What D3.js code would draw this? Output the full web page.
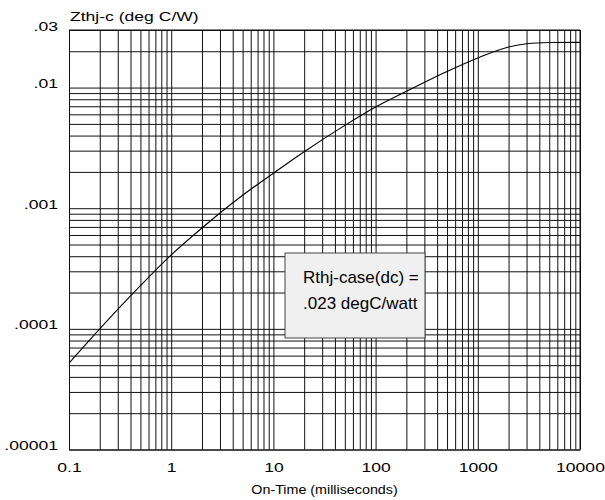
<!DOCTYPE html>
<html>
<head>
<meta charset="utf-8">
<script src="https://cdn.jsdelivr.net/npm/d3@7"></script>
<style>
  body { margin: 0; background: #fff; }
  svg { display: block; font-family: "Liberation Sans", Arial, sans-serif; }
</style>
</head>
<body>
<div id="chart"></div>
<script>
// on-time in milliseconds, thermal impedance in deg C/W
var onTime = [0.1, 0.2, 0.5, 1, 2, 5, 10, 20, 50, 100, 200, 500, 1000, 2000, 3000, 5000, 10000]
var zthjc  = [5.2e-5, 1.0e-4, 2.28e-4, 4.1e-4, 6.86e-4, 1.28e-3, 1.95e-3, 2.94e-3, 4.86e-3, 6.9e-3, 9.31e-3, 0.0136, 0.0176, 0.0217, 0.0231, 0.0236, 0.0237]

var xLabelValues = [0.1, 1, 10, 100, 1000, 10000]
var xLabels = ["0.1", "1", "10", "100", "1000", "10000"]
var yLabelValues = [1e-5, 1e-4, 1e-3, 0.01, 0.03]
var yLabels = [".00001", ".0001", ".001", ".01", ".03"]

var boxLines = ["Rthj-case(dc) =", ".023 degC/watt"]

var width = 605
var height = 500
var plotL = 69, plotR = 580, plotT = 30, plotB = 449.5
var stretch = 1.35   // the source lettering is wider than it is tall

var svg = d3.select("#chart")
            .append("svg")
            .attr("width", width)
            .attr("height", height)

var x = d3.scaleLog().domain([0.1, 10000]).range([plotL, plotR])
var y = d3.scaleLog().domain([1e-5, 0.03]).range([plotB, plotT])

// every 1..9 step of each decade gets a grid line
var xGrid = []
for (var e = -1; e < 4; e++) {
    for (var m = 1; m < 10; m++) xGrid.push(+(m * Math.pow(10, e)).toPrecision(3))
}
xGrid.push(10000)

var yGrid = []
for (var e = -5; e < -2; e++) {
    for (var m = 1; m < 10; m++) yGrid.push(+(m * Math.pow(10, e)).toPrecision(3))
}
yGrid.push(0.01, 0.02, 0.03)

function xFmt(d) {
    var i = xLabelValues.findIndex(function(v){ return Math.abs(v - d) / v < 1e-6 })
    return i < 0 ? "" : xLabels[i]
}
function yFmt(d) {
    var i = yLabelValues.findIndex(function(v){ return Math.abs(v - d) / v < 1e-6 })
    return i < 0 ? "" : yLabels[i]
}

var xAxis = svg.append("g")
    .attr("transform", "translate(0," + plotB + ")")
    .call(d3.axisBottom(x).tickValues(xGrid).tickFormat(xFmt)
            .tickSize(-(plotB - plotT)).tickSizeOuter(0).tickPadding(13))
xAxis.select(".domain").attr("stroke", "#111")
xAxis.selectAll(".tick line").attr("stroke", "#111")
xAxis.selectAll("text").attr("font-size", 13).attr("fill", "#000")
    .attr("font-family", "Liberation Sans, Arial, sans-serif")
    .attr("transform", "scale(" + stretch + ",1)")

var yAxis = svg.append("g")
    .attr("transform", "translate(" + plotL + ",0)")
    .call(d3.axisLeft(y).tickValues(yGrid).tickFormat(yFmt)
            .tickSize(-(plotR - plotL)).tickSizeOuter(0).tickPadding(11))
yAxis.select(".domain").attr("stroke", "#111")
yAxis.selectAll(".tick line").attr("stroke", "#111")
yAxis.selectAll("text").attr("font-size", 13).attr("fill", "#000").attr("dy", "0")
    .attr("font-family", "Liberation Sans, Arial, sans-serif")
    .attr("x", -11 / stretch)
    .attr("transform", "scale(" + stretch + ",1)")

// frame: right and top
svg.append("line").attr("x1", plotR).attr("x2", plotR).attr("y1", plotT).attr("y2", plotB)
   .attr("stroke", "#111")
svg.append("line").attr("x1", plotL).attr("x2", plotR).attr("y1", plotT).attr("y2", plotT)
   .attr("stroke", "#111")

var line = d3.line()
    .x(function(d, i){ return x(onTime[i]) })
    .y(function(d){ return y(d) })
    .curve(d3.curveMonotoneX)

svg.append("path")
    .datum(zthjc)
    .attr("d", line)
    .attr("fill", "none")
    .attr("stroke", "#000")
    .attr("stroke-width", 1.1)

// annotation box
svg.append("rect")
    .attr("x", 285).attr("y", 253).attr("width", 140).attr("height", 85)
    .attr("fill", "#f0f0f0").attr("stroke", "#444")

svg.selectAll(".boxtext")
    .data(boxLines)
    .enter()
    .append("text")
    .attr("class", "boxtext")
    .attr("x", 303)
    .attr("y", function(d, i){ return 283 + i * 26 })
    .attr("font-size", 17)
    .text(function(d){ return d })

svg.append("text")
    .attr("transform", "translate(" + (plotL + 1) + ",21) scale(" + stretch + ",1)")
    .attr("font-size", 13)
    .text("Zthj-c (deg C/W)")

svg.append("text")
    .attr("transform", "translate(" + ((plotL + plotR) / 2) + ",494) scale(1.1,1)")
    .attr("text-anchor", "middle")
    .attr("font-size", 13)
    .text("On-Time (milliseconds)")
</script>
</body>
</html>
